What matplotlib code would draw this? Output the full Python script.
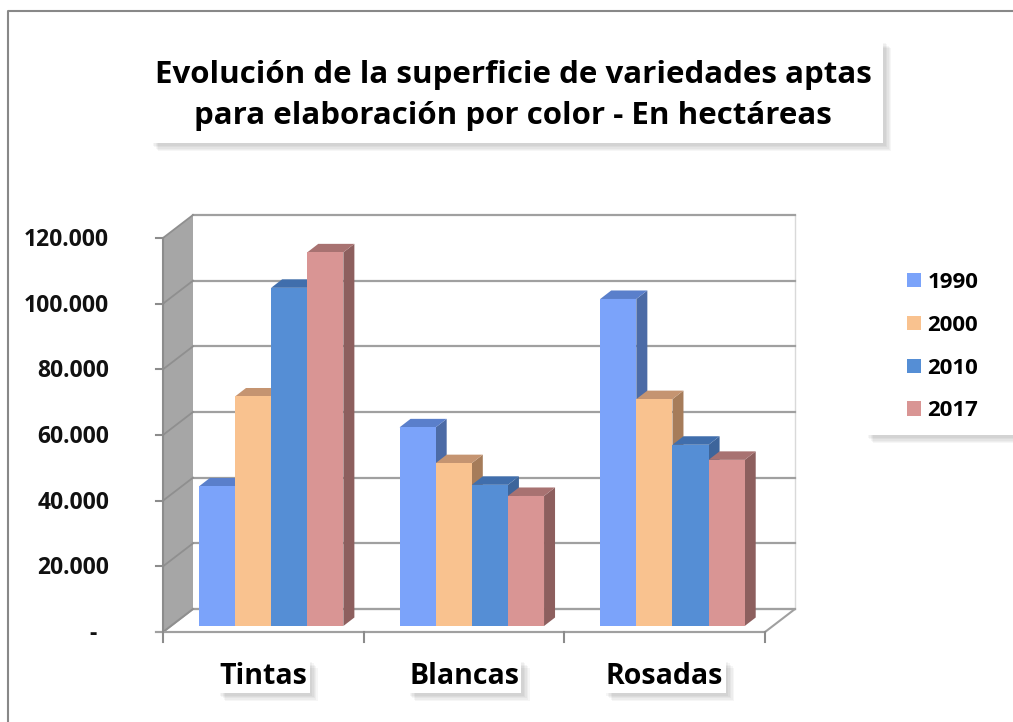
import matplotlib.pyplot as plt
from matplotlib.patches import Polygon, Rectangle
from matplotlib.lines import Line2D
import matplotlib.patheffects as pe

plt.rcParams['font.family'] = ['Open Sans', 'DejaVu Sans']

categories = ['Tintas', 'Blancas', 'Rosadas']
years = ['1990', '2000', '2010', '2017']
values_1990 = [42500, 60500, 99600]
values_2000 = [69900, 49600, 69100]
values_2010 = [103000, 43000, 55200]
values_2017 = [113800, 39600, 50600]
series = [values_1990, values_2000, values_2010, values_2017]
y_ticks = [0, 20000, 40000, 60000, 80000, 100000, 120000]
y_labels = ['-  ', '20.000', '40.000', '60.000', '80.000', '100.000', '120.000']

front_colors = ['#7ba3fa', '#f9c28f', '#558ed5', '#d99594']
side_colors = ['#4c6ba6', '#a67c5a', '#3d659b', '#8d5f5e']
top_colors = ['#5a7fcb', '#c59471', '#406eac', '#a87271']

W, H = 1013, 722
fig = plt.figure(figsize=(W / 100, H / 100), dpi=100)
ax = fig.add_axes([163 / W, 1 - 632 / H, 602 / W, 394 / H])
ax.set_xlim(0, 3)
ax.set_ylim(0, 120000)
ax.axis('off')

# pixel -> data units
kx = 3 / 602
ky = 120000 / 394
bdx, bdy = 30 * kx, 23 * ky      # depth of the 3d box
fx, fy = 7.8 * kx, 6 * ky        # front plane of the bars
sx, sy = 11 * kx, 8.5 * ky       # depth of each bar
bw = 0.18
gap = 0.14
ymax = y_ticks[-1]
grid_col = '#a0a0a0'
# soft drop shadow: a few faint layers
shadow = [pe.withSimplePatchShadow(offset=(d, -d), shadow_rgbFace='#000000', alpha=0.035)
          for d in (6, 5, 4, 3, 2)] + [pe.Normal()]

# back wall
ax.add_patch(Polygon([(bdx, bdy), (3 + bdx, bdy), (3 + bdx, ymax + bdy), (bdx, ymax + bdy)],
                     closed=True, fc='white', ec='none', clip_on=False, zorder=0))
ax.plot([3 + bdx, 3 + bdx], [bdy, ymax + bdy], color='#d9d9d9', lw=1, clip_on=False, zorder=1)

# left wall
ax.add_patch(Polygon([(0, 0), (bdx, bdy), (bdx, ymax + bdy), (0, ymax)],
                     closed=True, fc='#a6a6a6', ec='none', clip_on=False, zorder=1))

# floor
ax.add_patch(Polygon([(0, 0), (3, 0), (3 + bdx, bdy), (bdx, bdy)],
                     closed=True, fc='white', ec=grid_col, lw=1.5, clip_on=False, zorder=1))

# grid lines on back wall and left wall
for v in y_ticks:
    ax.plot([bdx, 3 + bdx], [v + bdy, v + bdy], color=grid_col, lw=1.6, clip_on=False, zorder=1.5)
    ax.plot([0, bdx], [v, v + bdy], color='#8f8f8f', lw=1.3, clip_on=False, zorder=1.5)
    ax.plot([-7 * kx, 0], [v, v], color='#8c8c8c', lw=1.5, clip_on=False, zorder=1.5)
ax.plot([0, 0], [0, ymax], color='#8c8c8c', lw=1.5, clip_on=False, zorder=1.6)
ax.plot([-7 * kx, 3], [0, 0], color=grid_col, lw=1.5, clip_on=False, zorder=1.6)
for i in range(len(categories) + 1):
    ax.plot([i, i], [0, -10 * ky], color='#8c8c8c', lw=1.5, clip_on=False, zorder=1.6)

# y tick labels
for v, lab in zip(y_ticks, y_labels):
    ax.text(-54 * kx, v - 2 * ky, lab, ha='right', va='center', fontsize=16.5, fontweight='bold',
            color='#111111', clip_on=False)

# bars (left to right so that faces overlap correctly)
z = 3
handles = []
for c in range(len(categories)):
    for j, vals in enumerate(series):
        v = vals[c]
        x0 = c + gap + j * bw + fx
        x1 = x0 + bw
        base = fy
        top = fy + v
        ax.add_patch(Polygon([(x1, base), (x1 + sx, base + sy), (x1 + sx, top + sy), (x1, top)],
                             closed=True, fc=side_colors[j], ec='none', clip_on=False, zorder=z))
        ax.add_patch(Polygon([(x0, top), (x1, top), (x1 + sx, top + sy), (x0 + sx, top + sy)],
                             closed=True, fc=top_colors[j], ec='none', clip_on=False, zorder=z + 0.01))
        b = ax.bar(x0, v, width=bw, bottom=base, align='edge', color=front_colors[j],
                   lw=0, clip_on=False, zorder=z + 0.02, label=years[j])
        if c == 0:
            handles.append(b)
        z += 0.1

# category labels with shadowed boxes
for c, name in enumerate(categories):
    t = ax.text(c + 0.5, -44 * ky, name, ha='center', va='center', fontsize=20.5,
                fontweight='bold', color='black', clip_on=False, zorder=10,
                bbox=dict(boxstyle='square,pad=0.08', fc='white', ec='none'))
    t.get_bbox_patch().set_path_effects(shadow)

# title box with shadow
fig.patches.append(Rectangle((150 / W, 1 - 143 / H), 733 / W, 103 / H, transform=fig.transFigure,
                             fc='white', ec='none', path_effects=shadow))
fig.text(513 / W, 1 - 75 / H, 'Evolución de la superficie de variedades aptas', ha='center',
         va='center', fontsize=22.5, fontweight='bold', color='black')
fig.text(513 / W, 1 - 116 / H, 'para elaboración por color - En hectáreas', ha='center',
         va='center', fontsize=22.5, fontweight='bold', color='black')

# legend box with shadow
fig.patches.append(Rectangle((865 / W, 1 - 435 / H), 150 / W, 175 / H, transform=fig.transFigure,
                             fc='white', ec='none', path_effects=shadow))
fig.legend(handles, years, loc='upper left', bbox_to_anchor=(907 / W, 1 - 272 / H),
           frameon=False, prop={'weight': 'bold', 'size': 16},
           handlelength=0.62, handleheight=0.62, handletextpad=0.3, labelspacing=0.98,
           borderpad=0, borderaxespad=0)

# outer chart frame
fig.add_artist(Line2D([8 / W, 8 / W, 1], [0, 1 - 11 / H, 1 - 11 / H], transform=fig.transFigure,
                      color='#888888', lw=1.5))

fig.savefig('out.png', dpi=100)
